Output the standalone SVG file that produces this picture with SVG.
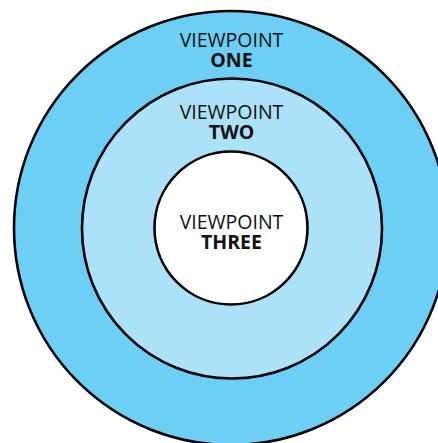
<svg xmlns="http://www.w3.org/2000/svg" width="438" height="443" viewBox="0 0 438 443">
<style>
circle{stroke:#000;stroke-width:2.6}
text{font-family:"Open Sans","Liberation Sans",sans-serif;font-size:19.5px;text-anchor:middle;fill:#111}
.b{font-weight:bold}
</style>
<rect width="438" height="443" fill="#fff"/>
<g id="one"><circle cx="231" cy="228" r="217" fill="#6dcff6"/>
<text x="231.5" y="46.7">VIEWPOINT</text><text class="b" x="231.5" y="66.7">ONE</text></g>
<g id="two"><circle cx="232" cy="228.5" r="150" fill="#abe2fa"/>
<text x="231.5" y="119">VIEWPOINT</text><text class="b" x="231.5" y="139">TWO</text></g>
<g id="three"><circle cx="231" cy="228" r="76.5" fill="#fff"/>
<text x="231.5" y="229">VIEWPOINT</text><text class="b" x="231.5" y="249">THREE</text></g>
<g id="connectors"/>
</svg>
